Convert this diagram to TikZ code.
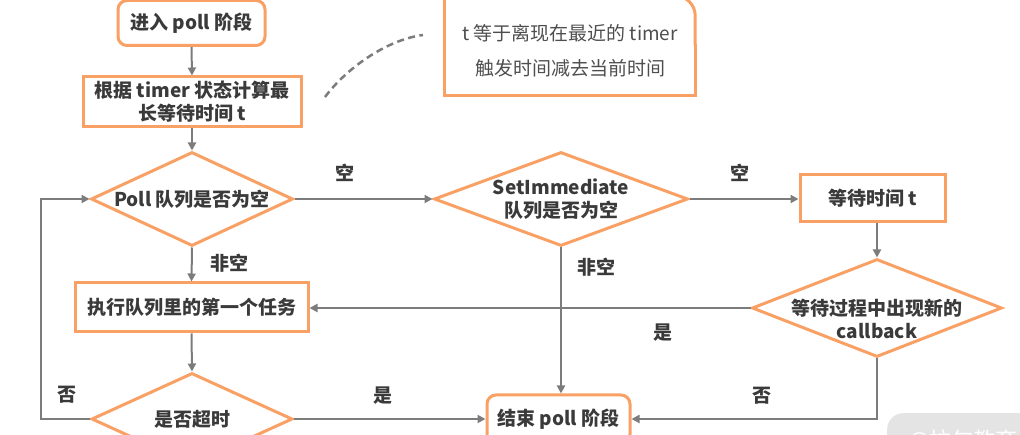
\documentclass[tikz,border=0pt]{standalone}
\usepackage{fontspec}
\setmainfont{Noto Sans CJK SC}
\usetikzlibrary{shapes.geometric,arrows.meta}
\definecolor{flowor}{HTML}{F9A064}
\definecolor{flowln}{HTML}{7C7C7C}
\definecolor{flowtx}{HTML}{3A3A3A}
\definecolor{wmgray}{HTML}{E4E4E4}
\begin{document}
\begin{tikzpicture}[x=1pt,y=-1pt,
  every node/.style={text=flowtx, font=\fontsize{19}{23}\selectfont\bfseries},
  box/.style={draw=flowor, line width=3pt, rectangle, inner sep=0pt, align=center},
  rbox/.style={box, rounded corners=9pt},
  dia/.style={draw=flowor, line width=3pt, diamond, inner sep=0pt},
  tag/.style={inner sep=0pt, align=center},
  link/.style={draw=flowln, line width=2pt, -{Triangle[length=8pt,width=8pt]}},
  outline/.style={draw=flowor, line width=3pt}]
\useasboundingbox (0,0) rectangle (1020,435);
\clip (0,0) rectangle (1020,435);

% main flow boxes
\node[rbox, minimum width=147pt, minimum height=45pt] (start) at (191.5,23) {进入 poll 阶段};
\node[box, minimum width=218pt, minimum height=50pt] (calc) at (192,102) {根据 timer 状态计算最\\长等待时间 t};
\node[dia, minimum width=202pt, minimum height=94pt] (poll) at (192,199) {};
\node[tag] (pollt) at (poll.center) {Poll 队列是否为空};
\node[dia, minimum width=254pt, minimum height=94pt] (setimm) at (561,199) {};
\node[tag] (setimmt) at (setimm.center) {SetImmediate\\队列是否为空};
\node[box, minimum width=145pt, minimum height=47pt] (wait) at (872.5,198.5) {等待时间 t};
\node[dia, minimum width=250pt, minimum height=98pt] (cb) at (877,308) {};
\node[tag] (cbt) at (877,319) {等待过程中出现新的\\callback};
\node[box, minimum width=233pt, minimum height=49pt] (exec) at (191.5,307.5) {执行队列里的第一个任务};
\node[dia, minimum width=201pt, minimum height=92pt] (tmo) at (192,419) {};
\node[tag] (tmot) at (tmo.center) {是否超时};
\node[rbox, minimum width=143pt, minimum height=48pt] (end) at (558.5,419) {结束 poll 阶段};

% annotation box with one rounded corner
\node[minimum width=250pt, minimum height=99pt, inner sep=0pt] (note) at (570,45.5) {};
\draw[outline, rounded corners=20pt] (note.east) |- (note.north west);
\draw[outline, line cap=rect] (note.north west) |- (note.south east) -- (note.east);
\node[tag, font=\fontsize{19}{35}\selectfont, text=flowtx!90] (notet) at (570,50.5)
  {t 等于离现在最近的 timer\\触发时间减去当前时间};
\coordinate (dA) at (325,97);
\coordinate (dB) at (423,35);
\draw[flowln, line width=2.5pt, dash pattern=on 7pt off 4.5pt] (dA) .. controls (345,70) and (385,40) .. (dB);

% connectors
\coordinate (loopx) at (41,0);
\draw[link] (start.south) -- (calc.north);
\draw[link] (calc.south) -- (poll.north);
\draw[link] (poll.east) -- (setimm.west);
\draw[link] (setimm.east) -- (setimm.east -| wait.west);
\draw[link] (poll.south) -- (exec.north);
\draw[link] (setimm.south) -- (setimm.south |- end.north);
\draw[link] (cb.north |- wait.south) -- (cb.north);
\draw[link] (cb.west) -- (cb.west -| exec.east);
\draw[link] (exec.south) -- (tmo.north);
\draw[link] (tmo.west) -- (tmo.west -| loopx) |- (poll.west);
\draw[link] (tmo.east) -- (end.west);
\draw[link] (cb.south) |- (end.east);

% branch labels
\node[tag] (l1) at (345,173) {空};
\node[tag] (l2) at (740,173) {空};
\node[tag] (l3) at (229,263) {非空};
\node[tag] (l4) at (596,267) {非空};
\node[tag] (l5) at (663,333) {是};
\node[tag] (l6) at (762,396) {否};
\node[tag] (l7) at (67,395) {否};
\node[tag] (l8) at (383,396) {是};

% corner badge
\node[fill=wmgray, rounded corners=16pt, minimum width=170pt, minimum height=60pt, anchor=north west] (wm) at (887,413) {};
\node[anchor=west, text=white, font=\fontsize{22}{22}\selectfont] (wmt) at (905,441) {@拉勾教育};
\end{tikzpicture}
\end{document}
